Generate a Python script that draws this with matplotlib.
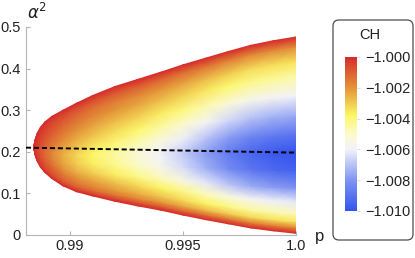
import numpy as np
import matplotlib
matplotlib.use('Agg')
import matplotlib.pyplot as plt
from matplotlib.colors import LinearSegmentedColormap
from matplotlib.patches import FancyBboxPatch
from matplotlib.transforms import IdentityTransform

plt.rcParams['font.family'] = ['Liberation Sans', 'DejaVu Sans']

# region boundary: columns in p, top / bottom edge in alpha^2
p_col = [0.98842, 0.98843, 0.98846, 0.98855, 0.98870, 0.98890, 0.98920, 0.98970,
         0.99030, 0.99100, 0.99200, 0.99300, 0.99400, 0.99500, 0.99600, 0.99700,
         0.99800, 0.99900, 1.00000]
alpha_top = [0.211, 0.220, 0.229, 0.244, 0.259, 0.272, 0.285, 0.300, 0.317, 0.335,
             0.357, 0.374, 0.391, 0.409, 0.425, 0.441, 0.456, 0.467, 0.476]
alpha_bottom = [0.211, 0.202, 0.193, 0.178, 0.163, 0.150, 0.136, 0.118, 0.104, 0.094,
                0.081, 0.070, 0.060, 0.048, 0.037, 0.027, 0.017, 0.010, 0.004]
# CH at the deepest point of each column
ch_center = [-1.0000, -1.0001, -1.0002, -1.0004, -1.0008, -1.0012, -1.0017, -1.0025,
             -1.0032, -1.0038, -1.0045, -1.0052, -1.0060, -1.0068, -1.0078, -1.0087,
             -1.0094, -1.0098, -1.0100]
# relative depth across a column (0 = edge, 1 = deepest), bottom -> top
t_frac = [0, 0.03, 0.06, 0.10, 0.16, 0.23, 0.32, 0.41, 0.50, 0.60, 0.70, 0.80, 0.87, 0.95, 1.0]
depth_profile = [0, 0.18, 0.35, 0.48, 0.62, 0.80, 0.95, 1.0, 0.90, 0.75, 0.60, 0.45, 0.35, 0.18, 0]

# dashed line
dash_p = [0.98806, 1.0]
dash_alpha = [0.210, 0.198]

xticks = [0.99, 0.995, 1.0]
xticklabels = ['0.99', '0.995', '1.0']
yticks = [0, 0.1, 0.2, 0.3, 0.4, 0.5]
yticklabels = ['0', '0.1', '0.2', '0.3', '0.4', '0.5']
cbticks = [-1.000, -1.002, -1.004, -1.006, -1.008, -1.010]
cblabels = ['\u22121.000', '\u22121.002', '\u22121.004', '\u22121.006', '\u22121.008', '\u22121.010']

cmap = LinearSegmentedColormap.from_list('temp', [
    (0.00, (0.20, 0.33, 0.93)),
    (0.20, (0.50, 0.58, 0.95)),
    (0.40, (0.95, 0.95, 0.98)),
    (0.50, (0.99, 0.98, 0.80)),
    (0.62, (0.99, 0.97, 0.40)),
    (0.80, (0.89, 0.58, 0.22)),
    (1.00, (0.84, 0.17, 0.17)),
])

fig = plt.figure(figsize=(4.15, 2.58), dpi=100)
ax = fig.add_axes([26/415, 23/258, 270/415, 208/258])

pc = np.array(p_col)
top = np.array(alpha_top)
bot = np.array(alpha_bottom)
tf = np.array(t_frac)
X = np.repeat(pc[:, None], len(tf), axis=1)
Y = bot[:, None] + tf[None, :] * (top - bot)[:, None]
C = -1 + (np.array(ch_center)[:, None] + 1) * np.array(depth_profile)[None, :]

mesh = ax.pcolormesh(X, Y, C, shading='gouraud', cmap=cmap, vmin=-1.010, vmax=-1.000)
ax.plot(dash_p, dash_alpha, color='black', lw=1.4, dashes=(2.6, 1.5), zorder=3)

ax.set_xlim(0.98806, 1.0)
ax.set_ylim(0, 0.5)
for s in ['top', 'right']:
    ax.spines[s].set_visible(False)
for s in ['left', 'bottom']:
    ax.spines[s].set_color('#b5b5b5')
    ax.spines[s].set_linewidth(0.8)
ax.set_xticks(xticks)
ax.set_xticklabels(xticklabels)
ax.set_yticks(yticks)
ax.set_yticklabels(yticklabels)
ax.tick_params(direction='in', length=3, width=0.8, color='#b5b5b5',
               labelsize=10.5, labelcolor='#222222')
ax.tick_params(axis='y', pad=4)
ax.tick_params(axis='x', pad=3)

fig.text(27/415, 1 - 19/258, r'$\alpha^2$', fontsize=12, va='baseline', color='#222222')
fig.text(315/415, 1 - 241/258, 'p', fontsize=12, va='baseline', color='#222222')

# legend box (behind the colorbar)
box = FancyBboxPatch((333, 18), 80, 220, boxstyle='round,pad=0,rounding_size=6',
                     transform=IdentityTransform(), facecolor='white',
                     edgecolor='#4d4d4d', lw=0.9, zorder=-1)
fig.add_artist(box)
fig.text(370/415, 1 - 35/258, 'CH', ha='center', va='center', fontsize=10.5, color='#222222')

cax = fig.add_axes([345/415, (258-211)/258, 12/415, 154/258])
cax.set_zorder(2)
cb = fig.colorbar(mesh, cax=cax)
cb.outline.set_visible(False)
cb.set_ticks(cbticks)
cb.set_ticklabels(cblabels)
cax.tick_params(length=2, color='#dddddd', labelsize=10.5, labelcolor='#222222', pad=4)

fig.savefig('out.png', dpi=100)
